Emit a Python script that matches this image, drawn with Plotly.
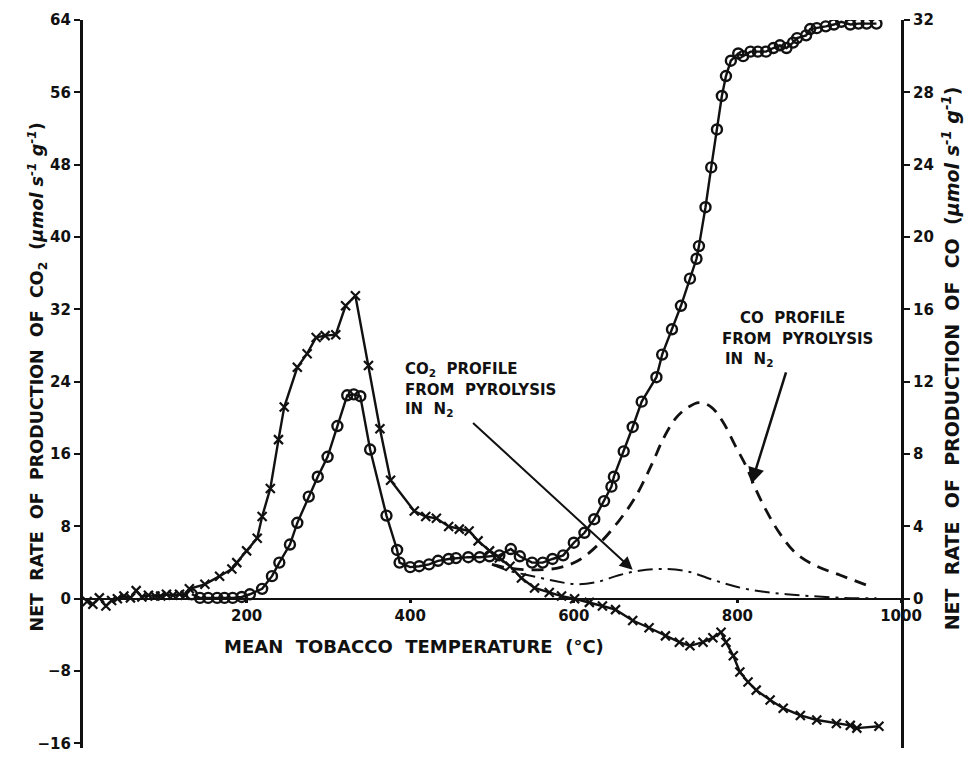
import plotly.graph_objects as go

# ---------------- data ----------------
# Net CO2 production (left axis, umol s-1 g-1) vs mean tobacco temperature (C)
co2_temp = [5, 12, 20, 28, 35, 42, 50, 58, 65, 72, 80, 88, 95, 102, 110, 118, 125,
            130, 149, 167, 182, 188, 200, 213, 219, 229, 239, 246, 262, 274, 285, 296,
            309, 321, 333, 349, 363, 376, 405, 419, 432, 447, 460, 472, 483, 497, 509,
            522, 536, 552, 570, 585, 601, 619, 635, 651, 672, 692, 712, 729, 742, 758,
            770, 780, 786, 795, 803, 813, 823, 840, 856, 877, 897, 921, 938, 946, 973]
co2_rate = [-0.3, -0.6, 0.1, -0.8, -0.2, 0.0, 0.3, 0.1, 0.9, 0.2, 0.4, 0.3, 0.3, 0.5, 0.4, 0.5, 0.4,
            1.1, 1.6, 2.5, 3.3, 4.0, 5.3, 6.7, 9.1, 12.2, 17.6, 21.2, 25.6, 27.1, 28.9, 29.1,
            29.2, 32.4, 33.5, 25.8, 18.8, 13.1, 9.7, 9.1, 8.9, 8.0, 7.7, 7.5, 6.4, 5.3, 4.5,
            3.6, 2.3, 1.2, 0.7, 0.3, 0.0, -0.4, -0.8, -1.2, -2.4, -3.2, -4.1, -4.8, -5.2, -4.8,
            -4.3, -3.7, -4.8, -6.3, -8.1, -9.2, -10.1, -11.2, -12.1, -12.9, -13.4, -13.8, -14.0, -14.3, -14.1]

# Net CO production (right axis, umol s-1 g-1)
co_temp = [133, 143, 153, 164, 173, 183, 194, 204, 219, 231, 240, 253, 262, 276, 287, 299,
           311, 323, 331, 339, 351, 371, 384, 387, 400, 411, 423, 434, 447, 456, 471, 485,
           497, 509, 523, 534, 549, 562, 574, 587, 600, 613, 625, 637, 646, 649, 661, 672,
           683, 701, 708, 720, 731, 742, 750, 753, 761, 768, 775, 781, 786, 792, 801, 807,
           816, 825, 835, 844, 852, 860, 868, 873, 884, 889, 897, 908, 918, 927, 938, 948,
           958, 970]
co_rate = [0.25, 0.05, 0.05, 0.05, 0.05, 0.05, 0.1, 0.25, 0.55, 1.25, 2.0, 3.0, 4.2, 5.65, 6.75, 7.85,
           9.55, 11.25, 11.3, 11.2, 8.25, 4.6, 2.7, 2.0, 1.75, 1.8, 1.9, 2.1, 2.2, 2.25, 2.3, 2.3,
           2.35, 2.4, 2.75, 2.35, 2.0, 2.0, 2.2, 2.4, 3.1, 3.65, 4.4, 5.4, 6.2, 6.75, 8.15, 9.5,
           10.9, 12.25, 13.5, 14.9, 16.2, 17.7, 18.8, 19.5, 21.65, 23.85, 25.95, 27.8, 28.9, 29.75, 30.15, 30.0,
           30.25, 30.25, 30.25, 30.45, 30.6, 30.45, 30.75, 31.0, 31.15, 31.5, 31.55, 31.65, 31.75, 31.9, 31.75, 31.8,
           31.8, 31.8]

# CO2 profile from pyrolysis in N2 (left axis)
pyro_co2_temp = [500, 520, 550, 580, 605, 630, 655, 680, 710, 740, 770, 800, 830, 860, 890, 930, 970]
pyro_co2_rate = [3.8, 3.1, 2.5, 1.9, 1.6, 1.9, 2.6, 3.1, 3.3, 3.0, 2.1, 1.3, 0.8, 0.5, 0.3, 0.1, 0.05]

# CO profile from pyrolysis in N2 (right axis)
pyro_co_temp = [500, 520, 550, 580, 605, 630, 655, 675, 695, 710, 725, 740, 753, 768, 782, 797,
                811, 823, 835, 852, 872, 897, 926, 961]
pyro_co_rate = [1.9, 1.7, 1.6, 1.7, 2.1, 3.0, 4.3, 5.6, 7.4, 8.9, 10.0, 10.6, 10.85, 10.6, 9.8, 8.5,
                7.3, 6.0, 4.9, 3.6, 2.5, 1.8, 1.3, 0.7]

x_ticks = [200, 400, 600, 800, 1000]
left_ticks = [-16, -8, 0, 8, 16, 24, 32, 40, 48, 56, 64]
right_ticks = [0, 4, 8, 12, 16, 20, 24, 28, 32]

FONT = "DejaVu Sans"
BLACK = "#111111"

fig = go.Figure()

fig.add_trace(go.Scatter(
    x=co2_temp, y=co2_rate, mode="lines+markers", name="CO2",
    line=dict(color=BLACK, width=2.4),
    marker=dict(symbol="x-thin", size=9, line=dict(color=BLACK, width=2.2)),
    yaxis="y"))

fig.add_trace(go.Scatter(
    x=co_temp, y=co_rate, mode="lines+markers", name="CO",
    line=dict(color=BLACK, width=2.4),
    marker=dict(symbol="circle-open", size=10, color=BLACK, line=dict(color=BLACK, width=2.4)),
    yaxis="y2"))

fig.add_trace(go.Scatter(
    x=pyro_co2_temp, y=pyro_co2_rate, mode="lines", name="CO2 pyrolysis",
    line=dict(color=BLACK, width=2, dash="longdashdot", shape="spline"),
    yaxis="y"))

fig.add_trace(go.Scatter(
    x=pyro_co_temp, y=pyro_co_rate, mode="lines", name="CO pyrolysis",
    line=dict(color=BLACK, width=2.8, dash="12px,8px", shape="spline"),
    yaxis="y2"))

tickfont = dict(family=FONT, size=15, color=BLACK, weight="bold")

LEFT_RANGE = [-16.5, 64]
RIGHT_RANGE = [-8.25, 32]

fig.update_layout(
    width=976, height=758,
    margin=dict(l=83, r=75, t=20, b=5),
    paper_bgcolor="white", plot_bgcolor="white",
    showlegend=False,
    font=dict(family=FONT, color=BLACK),
    xaxis=dict(
        range=[0, 1000], tickvals=x_ticks, ticktext=[str(v) for v in x_ticks],
        showgrid=False, zeroline=False, showline=True, linecolor=BLACK, linewidth=2.2,
        ticks="outside", ticklen=3, tickwidth=3, tickcolor=BLACK,
        tickfont=tickfont, anchor="free",
        position=-LEFT_RANGE[0] / (LEFT_RANGE[1] - LEFT_RANGE[0]), side="bottom"),
    yaxis=dict(
        range=LEFT_RANGE, tickvals=left_ticks,
        showgrid=False, zeroline=False, showline=True, linecolor=BLACK, linewidth=3.2,
        ticks="outside", ticklen=6, tickwidth=2, tickcolor=BLACK,
        tickfont=tickfont),
    yaxis2=dict(
        range=RIGHT_RANGE, tickvals=right_ticks, overlaying="y", side="right",
        showgrid=False, zeroline=False, showline=True, linecolor=BLACK, linewidth=3.2,
        ticks="outside", ticklen=6, tickwidth=2, tickcolor=BLACK,
        tickfont=tickfont),
)

lab = dict(family=FONT, size=15, color=BLACK, weight="bold")

annotations = [
    # axis titles
    dict(text="MEAN  TOBACCO  TEMPERATURE  (°C)", xref="x", yref="y", x=405, y=-5.3,
         showarrow=False, font=dict(family=FONT, size=18, color=BLACK, weight="bold")),
    dict(text="NET  RATE  OF  PRODUCTION  OF  CO<sub>2</sub>  (<i>μmol s<sup>-1</sup> g<sup>-1</sup></i>)",
         xref="paper", yref="paper", x=-0.073, y=0.51, textangle=-90, showarrow=False,
         font=dict(family=FONT, size=17.5, color=BLACK, weight="bold")),
    dict(text="NET  RATE  OF  PRODUCTION  OF  CO  (<i>μmol s<sup>-1</sup> g<sup>-1</sup></i>)",
         xref="paper", yref="paper", x=1.078, y=0.535, textangle=-90, showarrow=False,
         font=dict(family=FONT, size=19, color=BLACK, weight="bold")),
    # CO2 pyrolysis label
    dict(text="CO<sub>2</sub>  PROFILE", xref="x", yref="y", x=391, y=25.4, xanchor="left",
         showarrow=False, font=lab),
    dict(text="FROM  PYROLYSIS", xref="x", yref="y", x=391, y=23.1, xanchor="left",
         showarrow=False, font=lab),
    dict(text="IN  N<sub>2</sub>", xref="x", yref="y", x=391, y=20.9, xanchor="left",
         showarrow=False, font=lab),
    dict(text="", xref="x", yref="y", x=672, y=3.2, axref="x", ayref="y", ax=475, ay=19.6,
         showarrow=True, arrowhead=2, arrowsize=1.3, arrowwidth=2, arrowcolor=BLACK),
    # CO pyrolysis label
    dict(text="CO  PROFILE", xref="x", yref="y", x=867, y=31.1,
         showarrow=False, font=lab),
    dict(text="FROM  PYROLYSIS", xref="x", yref="y", x=873, y=28.7,
         showarrow=False, font=lab),
    dict(text="IN  N<sub>2</sub>", xref="x", yref="y", x=782, y=26.5, xanchor="left",
         showarrow=False, font=lab),
    dict(text="", xref="x", yref="y", x=817, y=12.7, axref="x", ayref="y", ax=860, ay=25.2,
         showarrow=True, arrowhead=2, arrowsize=1.3, arrowwidth=2.5, arrowcolor=BLACK),
]
fig.update_layout(annotations=annotations)

fig.write_html("out.html")
